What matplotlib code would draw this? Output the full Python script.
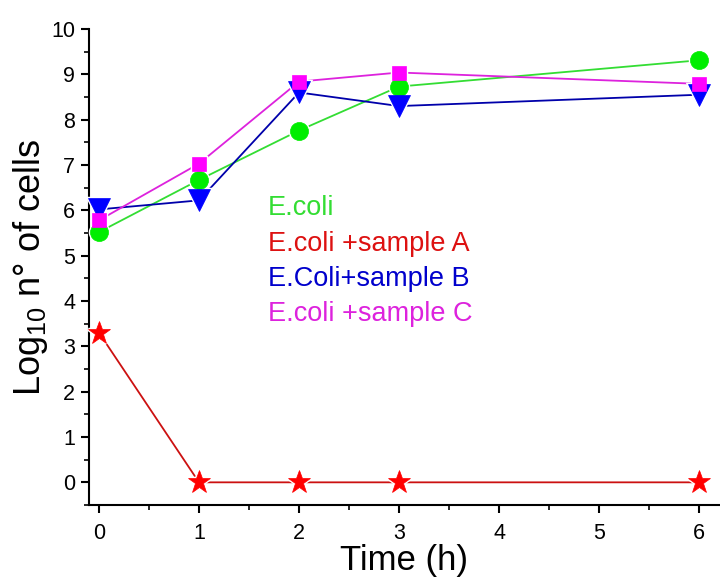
import numpy as np
import matplotlib.pyplot as plt
from matplotlib.ticker import MultipleLocator

plt.rcParams['font.family'] = ['Liberation Sans', 'DejaVu Sans']
plt.rcParams['mathtext.default'] = 'regular'

# Sampling times (h) and log10 cell counts
times = [0, 1, 2, 3, 6]
ecoli = [5.52, 6.67, 7.76, 8.73, 9.31]
sample_a = [3.3, 0.0, 0.0, 0.0, 0.0]
sample_b = [6.02, 6.22, 8.6, 8.3, 8.55]
sample_c = [5.78, 7.03, 8.84, 9.04, 8.79]

labels = ['E.coli', 'E.coli +sample A', 'E.Coli+sample B', 'E.coli +sample C']

W, H = 720, 579
fig = plt.figure(figsize=(W / 100, H / 100), dpi=100)
ax = fig.add_axes([89 / W, (H - 505) / H, 1 - 89 / W, (505 - 29) / H])

# line colour, marker colour, marker, size
styles = [
    ('#33dd33', '#00ee00', 'o', 13),
    ('#cc1111', '#ff0000', '*', 17),
    ('#0000aa', '#0000ff', 'v', 16),
    ('#dd22dd', '#ff00ff', 's', 10.5),
]
series = [ecoli, sample_a, sample_b, sample_c]

for vals, (lc, mc, mk, ms) in zip(series, styles):
    ax.plot(times, vals, color=lc, lw=1.3, zorder=2, clip_on=False)
    # white halo gives the gap between line and marker
    ax.plot(times, vals, ls='none', marker=mk, ms=ms, mfc=mc, mec='white',
            mew=2.5, zorder=3, clip_on=False)
    ax.plot(times, vals, ls='none', marker=mk, ms=ms, mfc=mc, mec=mc,
            mew=0.5, zorder=4, clip_on=False)

# text legend (pixel positions from top-left)
text_colors = ['#33dd33', '#dd1111', '#0000cc', '#dd22dd']
text_y = [208, 244, 279, 314]
for lab, c, ty in zip(labels, text_colors, text_y):
    fig.text(268 / W, 1 - ty / H, lab, color=c, fontsize=19.5, va='center',
             ha='left')

ax.set_xlim(-0.1, 6.21)
ax.set_ylim(-0.5, 10)
ax.xaxis.set_major_locator(MultipleLocator(1))
ax.xaxis.set_minor_locator(MultipleLocator(0.5))
ax.yaxis.set_major_locator(MultipleLocator(1))
ax.yaxis.set_minor_locator(MultipleLocator(0.5))

for s in ['top', 'right']:
    ax.spines[s].set_visible(False)
for s in ['left', 'bottom']:
    ax.spines[s].set_linewidth(1.5)

ax.tick_params(which='major', length=6, width=1.5, labelsize=15.5,
               direction='out', pad=4)
ax.tick_params(axis='x', which='major', pad=7)
ax.tick_params(which='minor', length=3.3, width=1.2, direction='out')

ax.set_xlabel('Time (h)', fontsize=25, labelpad=0)
ax.set_ylabel('Log$_{10}$ n° of cells', fontsize=26, labelpad=0.5)

plt.savefig('out.png', dpi=100)
plt.close()
